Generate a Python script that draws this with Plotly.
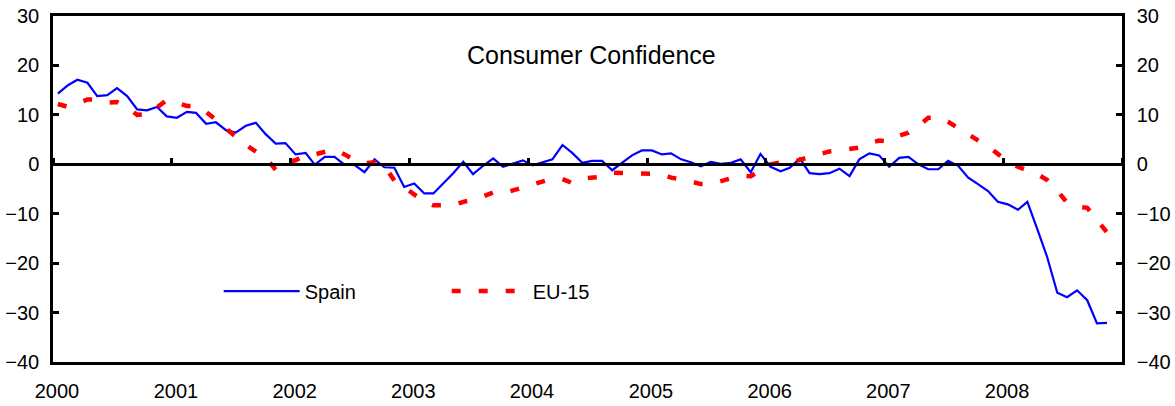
import pandas as pd
import plotly.graph_objects as go

# Monthly data, Jan 2000 - Nov 2008
start_month = "2000-01-01"
n_months = 107

spain = [
    14.3, 16.0, 17.1, 16.5, 13.8, 14.0, 15.4, 13.8, 11.1, 10.9, 11.6, 9.7,
    9.4, 10.6, 10.4, 8.2, 8.5, 6.9, 6.4, 7.8, 8.4, 6.1, 4.2, 4.3,
    2.0, 2.3, -0.1, 1.5, 1.5, -0.1, -0.1, -1.6, 1.0, -0.6, -0.7, -4.6,
    -3.9, -5.9, -5.9, -3.9, -1.8, 0.5, -2.0, -0.3, 1.2, -0.5, 0.1, 0.8,
    -0.2, 0.4, 1.0, 3.9, 2.3, 0.3, 0.7, 0.7, -1.2, 0.3, 1.8, 2.8,
    2.8, 2.0, 2.2, 1.0, 0.4, -0.4, 0.5, 0.1, 0.3, 1.0, -1.6, 2.1,
    -0.5, -1.4, -0.7, 1.2, -1.8, -2.0, -1.8, -0.9, -2.4, 1.0, 2.2, 1.8,
    -0.5, 1.3, 1.5, 0.0, -1.0, -1.0, 0.7, -0.3, -2.7, -4.0, -5.4, -7.6,
    -8.1, -9.2, -7.6, -13.2, -18.8, -26.0, -26.9, -25.5, -27.5, -32.2, -32.1,
]

eu15 = [
    12.2, 11.6, 12.3, 13.1, 13.1, 12.5, 12.6, 11.5, 10.0, 10.2, 11.5, 13.0,
    12.4, 11.8, 11.8, 10.6, 9.0, 7.4, 5.6, 3.9, 2.5, 1.3, -1.1, 0.4,
    0.8, 1.9, 2.0, 2.4, 3.0, 2.0, 0.9, 0.2, 0.4, -0.3, -3.3, -4.6,
    -6.2, -7.6, -8.3, -8.2, -8.3, -7.6, -7.2, -6.5, -5.7, -5.9, -5.3, -4.5,
    -3.9, -3.3, -2.9, -3.0, -3.8, -2.9, -2.8, -2.5, -1.7, -1.7, -1.8, -1.9,
    -1.9, -2.0, -2.7, -3.0, -3.5, -4.0, -4.0, -3.5, -2.9, -2.3, -2.4, -1.2,
    0.0, 0.4, 0.3, 0.9, 1.4, 2.0, 2.6, 2.8, 3.0, 3.4, 4.3, 4.8,
    4.6, 5.8, 6.4, 7.7, 9.4, 9.5, 8.6, 7.3, 6.2, 5.0, 3.6, 2.1,
    0.5, -0.5, -1.2, -2.0, -3.2, -5.3, -7.8, -8.6, -8.8, -11.1, -13.8,
]

year_ticks = [str(y) for y in range(2000, 2010)]
year_labels = [str(y) for y in range(2000, 2009)]
y_ticks = [-40, -30, -20, -10, 0, 10, 20, 30]

dates = pd.date_range(start_month, periods=n_months, freq="MS") + pd.Timedelta(days=15)
tick_dates = [f"{y}-01-01" for y in year_ticks]
x_range = [tick_dates[0], tick_dates[-1]]

FONT = "Liberation Sans, Arial, sans-serif"
AXIS_W = 2.5

fig = go.Figure()
fig.add_trace(go.Scatter(
    x=dates, y=spain, name="Spain", mode="lines",
    line=dict(color="#0000FF", width=2.2),
    xaxis="x", yaxis="y",
))
fig.add_trace(go.Scatter(
    x=dates, y=eu15, name="EU-15", mode="lines",
    line=dict(color="#FF0000", width=4.5, dash="9px,18px"),
    xaxis="x2", yaxis="y2",
))

fig.update_layout(
    width=1175, height=406,
    margin=dict(l=53, r=53, t=16, b=44, autoexpand=False),
    paper_bgcolor="white", plot_bgcolor="white",
    font=dict(family=FONT, size=20, color="black"),
    showlegend=True,
    legend=dict(
        orientation="h", x=0.155, y=0.205, xanchor="left", yanchor="middle",
        itemwidth=76, entrywidth=137, entrywidthmode="pixels",
        bgcolor="rgba(0,0,0,0)", font=dict(size=20),
    ),
    xaxis=dict(
        type="date", range=x_range, automargin=False,
        tickvals=tick_dates[:-1], ticktext=year_labels,
        ticks="", showgrid=False, zeroline=False,
        showline=True, linecolor="black", linewidth=AXIS_W, mirror=True,
        tickfont=dict(size=20), ticklabelshift=4, ticklabelstandoff=9,
    ),
    xaxis2=dict(
        type="date", range=x_range, overlaying="x", automargin=False,
        anchor="free", position=4/7, side="top",
        tickvals=tick_dates, ticks="outside", ticklen=6, tickwidth=AXIS_W,
        tickcolor="black", showticklabels=False,
        showgrid=False, zeroline=False,
        showline=True, linecolor="black", linewidth=AXIS_W,
    ),
    yaxis=dict(
        range=[-40, 30], tickvals=y_ticks, automargin=False,
        ticks="inside", ticklen=6, tickwidth=AXIS_W, tickcolor="black",
        showgrid=False, zeroline=False,
        showline=True, linecolor="black", linewidth=AXIS_W,
        tickfont=dict(size=20), ticklabelstandoff=7,
    ),
    yaxis2=dict(
        range=[-40, 30], tickvals=y_ticks, overlaying="y", side="right",
        anchor="x", automargin=False,
        ticks="inside", ticklen=6, tickwidth=AXIS_W, tickcolor="black",
        showgrid=False, zeroline=False,
        showline=True, linecolor="black", linewidth=AXIS_W,
        tickfont=dict(size=20), ticklabelstandoff=8,
    ),
    annotations=[dict(
        text="Consumer Confidence", xref="paper", yref="paper",
        x=0.5037, y=0.887, xanchor="center", yanchor="middle",
        showarrow=False, font=dict(size=25, family=FONT),
    )],
)

fig.write_html(
    "out.html",
    config={"displayModeBar": False},
    post_script="document.body.style.margin='0';",
)
